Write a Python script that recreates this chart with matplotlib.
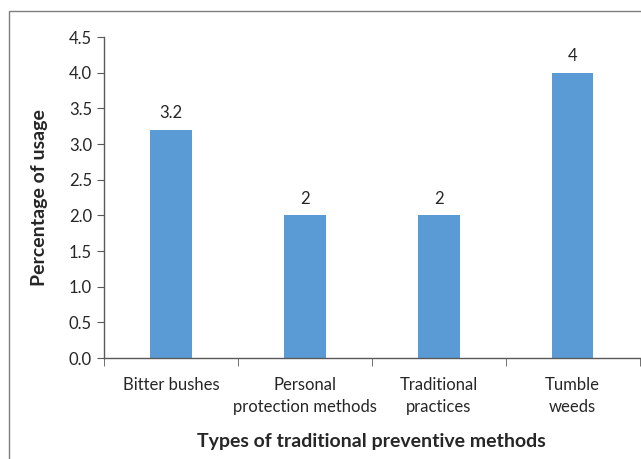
import matplotlib.pyplot as plt
from matplotlib.patches import Rectangle

categories = ['Bitter bushes', 'Personal\nprotection methods', 'Traditional\npractices', 'Tumble\nweeds']
usage = [3.2, 2, 2, 4]
value_labels = ['3.2', '2', '2', '4']

plt.rcParams['font.family'] = ['Lato', 'DejaVu Sans']
text_color = '#262626'

fig = plt.figure(figsize=(6.41, 4.59), dpi=100)
ax = fig.add_axes([0.162, 0.22, 0.836, 0.699])

# outer chart frame (only top and left edges fall inside the image)
fig.patches.append(Rectangle((9 / 641, -0.1), 1.2, 1 - 11 / 459 + 0.1,
                             transform=fig.transFigure, fill=False,
                             edgecolor='#7f7f7f', linewidth=1.0))

x = list(range(len(categories)))
bars = ax.bar(x, usage, width=0.31, color='#5B9BD5')
for xi, v, lab in zip(x, usage, value_labels):
    ax.text(xi, v + 0.12, lab, ha='center', va='bottom', fontsize=12, color=text_color)

ax.set_xlim(-0.5, len(categories) - 0.5)
ax.set_ylim(0, 4.5)
ax.set_yticks([i * 0.5 for i in range(10)])
ax.set_yticklabels([f'{i * 0.5:.1f}' for i in range(10)], fontsize=12, color=text_color)

ax.set_xticks(x)
ax.set_xticklabels(categories, fontsize=12, color=text_color, linespacing=1.45)
ax.tick_params(axis='x', which='major', length=0, pad=14)
ax.set_xticks([i + 0.5 for i in range(-1, len(categories))], minor=True)
ax.tick_params(axis='x', which='minor', length=6, color='#595959', direction='out')
ax.tick_params(axis='y', length=5, color='#595959', direction='out')

for side in ['top', 'right']:
    ax.spines[side].set_visible(False)
for side in ['left', 'bottom']:
    ax.spines[side].set_color('#595959')
    ax.spines[side].set_linewidth(1.0)

ax.set_ylabel('Percentage of usage', fontsize=14, fontweight='bold', color=text_color, labelpad=15)
ax.set_xlabel('Types of traditional preventive methods', fontsize=14, fontweight='bold',
              color=text_color, labelpad=13)

fig.savefig('out.png', dpi=100)
